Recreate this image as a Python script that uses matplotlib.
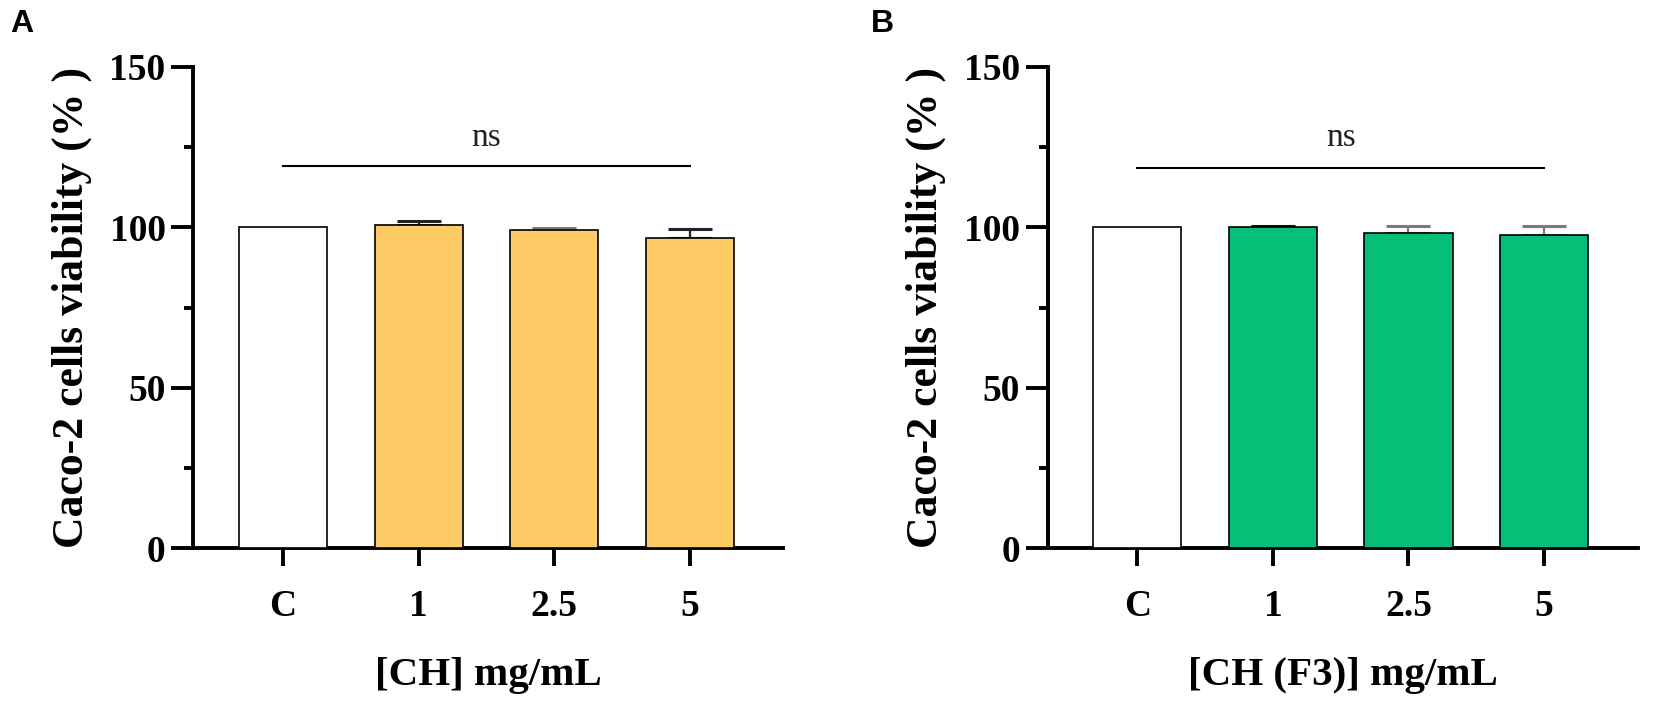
import matplotlib
matplotlib.use("Agg")
import matplotlib.pyplot as plt
from matplotlib.ticker import MultipleLocator

# ---- data ----
categories = ["C", "1", "2.5", "5"]
a_means = [100.0, 100.6, 99.1, 96.8]
a_err = [0.0, 1.3, 0.7, 2.7]
b_means = [100.0, 100.0, 98.3, 97.6]
b_err = [0.0, 0.4, 2.0, 2.9]
a_sig_y = 119.2
b_sig_y = 118.6
a_xlabel = "[CH] mg/mL"
b_xlabel = "[CH (F3)] mg/mL"
ylabel = "Caco-2 cells viability (% )"
yticks = [0, 50, 100, 150]

a_colors = ["white", "#FDCB65", "#FDCB65", "#FDCB65"]
b_colors = ["white", "#05BF79", "#05BF79", "#05BF79"]
a_cap_colors = ["#222222", "#222222", "#7a7a7a", "#222222"]
b_cap_colors = ["#222222", "#111111", "#7a7a7a", "#7a7a7a"]

SERIF = ["Liberation Serif", "DejaVu Serif"]
SANS = ["Liberation Sans", "DejaVu Sans"]

W, H = 1654, 709
fig = plt.figure(figsize=(W / 100, H / 100), dpi=100)


def make_panel(left_px, means, errs, colors, cap_colors, sig_y, xlabel, letter, letter_x):
    ax = fig.add_axes([left_px / W, 1 - 548.3 / H, 590 / W, (548.3 - 66.8) / H])
    x = list(range(len(categories)))
    ax.bar(x, means, width=0.65, color=colors, edgecolor="black", linewidth=1.2, zorder=3)
    for xi, m, e, cc in zip(x, means, errs, cap_colors):
        if e > 0:
            ax.errorbar([xi], [m], yerr=[[0], [e]], fmt="none", ecolor=cc,
                        elinewidth=1.6, capsize=16, capthick=2.2, zorder=2)
    ax.set_xlim(-0.662, 3.69)
    ax.set_ylim(0, 150)
    ax.set_xticks(x)
    ax.set_xticklabels(categories)
    ax.set_yticks(yticks)
    ax.yaxis.set_minor_locator(MultipleLocator(25))
    for s in ["top", "right"]:
        ax.spines[s].set_visible(False)
    for s in ["left", "bottom"]:
        ax.spines[s].set_linewidth(2.8)
    ax.tick_params(axis="y", which="major", length=15.5, width=2.8, pad=4.5)
    ax.tick_params(axis="y", which="minor", length=6.5, width=2.8)
    ax.tick_params(axis="x", which="major", length=13, width=2.8, pad=16)
    for lab in ax.get_xticklabels() + ax.get_yticklabels():
        lab.set_fontfamily(SERIF)
        lab.set_fontweight("bold")
        lab.set_fontsize(27)
    ax.set_xlabel(xlabel, fontfamily=SERIF, fontweight="bold", fontsize=29.5, labelpad=24)
    ax.set_ylabel(ylabel, fontfamily=SERIF, fontweight="bold", fontsize=31.5, labelpad=12.5)
    ax.plot([0, 3], [sig_y, sig_y], color="black", linewidth=1.5, zorder=3)
    ax.text(1.5, 125.4, "ns", ha="center", va="baseline", fontfamily=SERIF,
            fontsize=24, color="#222222")
    fig.text(letter_x / W, 1 - 9 / H, letter, ha="left", va="top", fontfamily=SANS,
             fontweight="bold", fontsize=23)
    return ax


make_panel(193.3, a_means, a_err, a_colors, a_cap_colors, a_sig_y, a_xlabel, "A", 10)
make_panel(1047.6, b_means, b_err, b_colors, b_cap_colors, b_sig_y, b_xlabel, "B", 871)

fig.savefig("out.png", dpi=100)
